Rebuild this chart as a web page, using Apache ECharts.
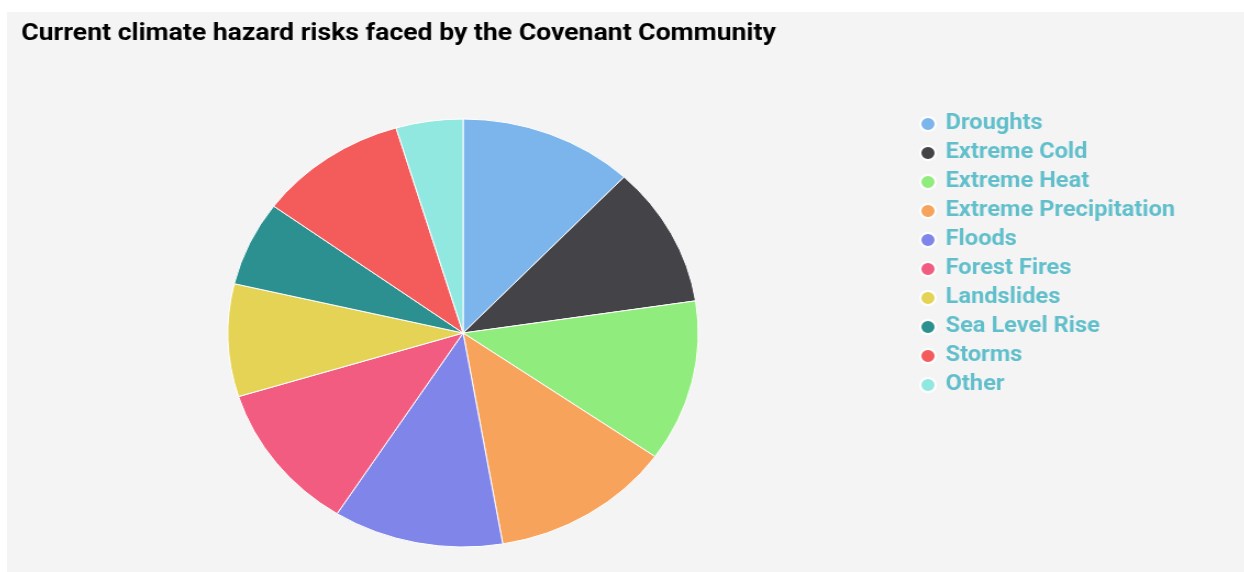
<!DOCTYPE html>
<html>
<head>
<meta charset="utf-8">
<script src="https://cdn.jsdelivr.net/npm/echarts@6/dist/echarts.min.js"></script>
<style>
  html, body { margin: 0; padding: 0; background: #ffffff; }
  #panel {
    position: absolute; left: 7px; top: 12px;
    width: 1237px; height: 560px;
    background: #f4f4f4; overflow: hidden;
  }
  /* the reference is stretched horizontally, so draw narrower and widen */
  #chart {
    width: 1126px; height: 560px;
    transform: scaleX(1.099); transform-origin: 0 0;
  }
</style>
</head>
<body>
<div id="panel"><div id="chart"></div></div>
<script>
const categories = ['Droughts', 'Extreme Cold', 'Extreme Heat', 'Extreme Precipitation', 'Floods',
  'Forest Fires', 'Landslides', 'Sea Level Rise', 'Storms', 'Other']
const shares = [12.0, 10.6, 12.2, 12.5, 11.7, 11.2, 8.5, 6.4, 10.3, 4.6]
const colors = ['#7cb5ec', '#434348', '#90ed7d', '#f7a35c', '#8085e9',
  '#f15c80', '#e4d354', '#2b908f', '#f45b5b', '#91e8e1']

const chart = echarts.init(document.getElementById('chart'))

const option = {
  animation: false,
  backgroundColor: 'transparent',
  color: colors,
  title: {
    text: 'Current climate hazard risks faced by the Covenant Community',
    left: 13,
    top: 10,
    padding: 0,
    textStyle: { fontFamily: 'Roboto', fontWeight: 'bold', fontSize: 24.2, color: '#000000' }
  },
  legend: {
    orient: 'vertical',
    left: 830,
    top: 101,
    padding: 0,
    icon: 'circle',
    itemWidth: 14,
    itemHeight: 14,
    itemGap: 7,
    data: categories,
    textStyle: {
      fontFamily: 'Roboto', fontWeight: 'bold', fontSize: 21.5, lineHeight: 20,
      color: '#60bfcb', padding: [0, 0, 0, 4]
    }
  },
  series: [
    {
      type: 'pie',
      center: [415, 321],
      radius: 214,
      startAngle: 90,
      clockwise: true,
      label: { show: false },
      labelLine: { show: false },
      emphasis: { disabled: true },
      itemStyle: { borderColor: '#ffffff', borderWidth: 1 },
      data: categories.map((name, i) => ({ name, value: shares[i] }))
    }
  ]
}

chart.setOption(option)
</script>
</body>
</html>
